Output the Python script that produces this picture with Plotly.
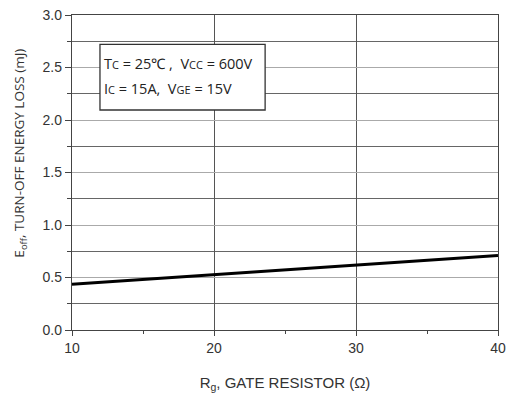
import plotly.graph_objects as go

rg = [10, 15, 20, 25, 30, 35, 40]
eoff = [0.435, 0.48, 0.525, 0.572, 0.62, 0.665, 0.71]

x_ticks = [10, 20, 30, 40]
y_ticks = [0.0, 0.5, 1.0, 1.5, 2.0, 2.5, 3.0]

fig = go.Figure()
fig.add_trace(go.Scatter(x=rg, y=eoff, mode="lines",
                         line=dict(color="black", width=3), showlegend=False))

fig.add_shape(type="rect", xref="x", yref="y", x0=11.97, x1=23.6, y0=2.095, y1=2.72,
              line=dict(color="#333", width=1.3), fillcolor="white", layer="above")

sm = '<span style="font-size:11px">'
fig.add_annotation(x=12.1, y=2.54, xref="x", yref="y", xanchor="left", yanchor="middle",
                   showarrow=False, font=dict(family="Open Sans", size=14.5, color="#222"),
                   text="T" + sm + "C</span> = 25℃ ,  V" + sm + "CC</span> = 600V")
fig.add_annotation(x=12.1, y=2.3, xref="x", yref="y", xanchor="left", yanchor="middle",
                   showarrow=False, font=dict(family="Open Sans", size=14.5, color="#222"),
                   text="I" + sm + "C</span> = 15A,  V" + sm + "GE</span> = 15V")

fig.add_annotation(x=-0.122, y=0.56, xref="paper", yref="paper", textangle=-90,
                   showarrow=False, xanchor="center", yanchor="middle",
                   font=dict(family="Open Sans", size=13.5, color="#333"),
                   text="E<sub>off</sub>, TURN-OFF ENERGY LOSS (mJ)")

fig.update_xaxes(range=[10, 40], tickvals=x_ticks, ticktext=[str(v) for v in x_ticks],
                 automargin=False,
                 showgrid=True, gridcolor="#555", gridwidth=1,
                 showline=True, linecolor="#444", linewidth=1.3, mirror=True,
                 ticks="outside", ticklen=5, tickcolor="#444",
                 minor=dict(tickvals=[15, 25, 35], ticks="outside", ticklen=3, tickcolor="#444", showgrid=False),
                 zeroline=False,
                 tickfont=dict(family="Liberation Sans", size=14, color="#333"),
                 title=dict(text="R<sub>g</sub>, GATE RESISTOR (Ω)", standoff=22,
                            font=dict(family="Liberation Sans", size=15, color="#333")))
fig.update_yaxes(range=[0, 3.0], tickvals=y_ticks, ticktext=[f"{v:.1f}" for v in y_ticks],
                 automargin=False,
                 showgrid=True, gridcolor="#aaa", gridwidth=1,
                 showline=True, linecolor="#444", linewidth=1.3, mirror=True,
                 ticks="outside", ticklen=6, tickcolor="#444",
                 minor=dict(dtick=0.25, ticks="outside", ticklen=4, tickcolor="#444",
                            showgrid=True, gridcolor="#666", gridwidth=1),
                 zeroline=False,
                 tickfont=dict(family="Liberation Sans", size=14, color="#333"))

fig.update_layout(width=511, height=397, margin=dict(l=72, r=13, t=15, b=67),
                  plot_bgcolor="white", paper_bgcolor="white")

fig.write_html("out.html")
